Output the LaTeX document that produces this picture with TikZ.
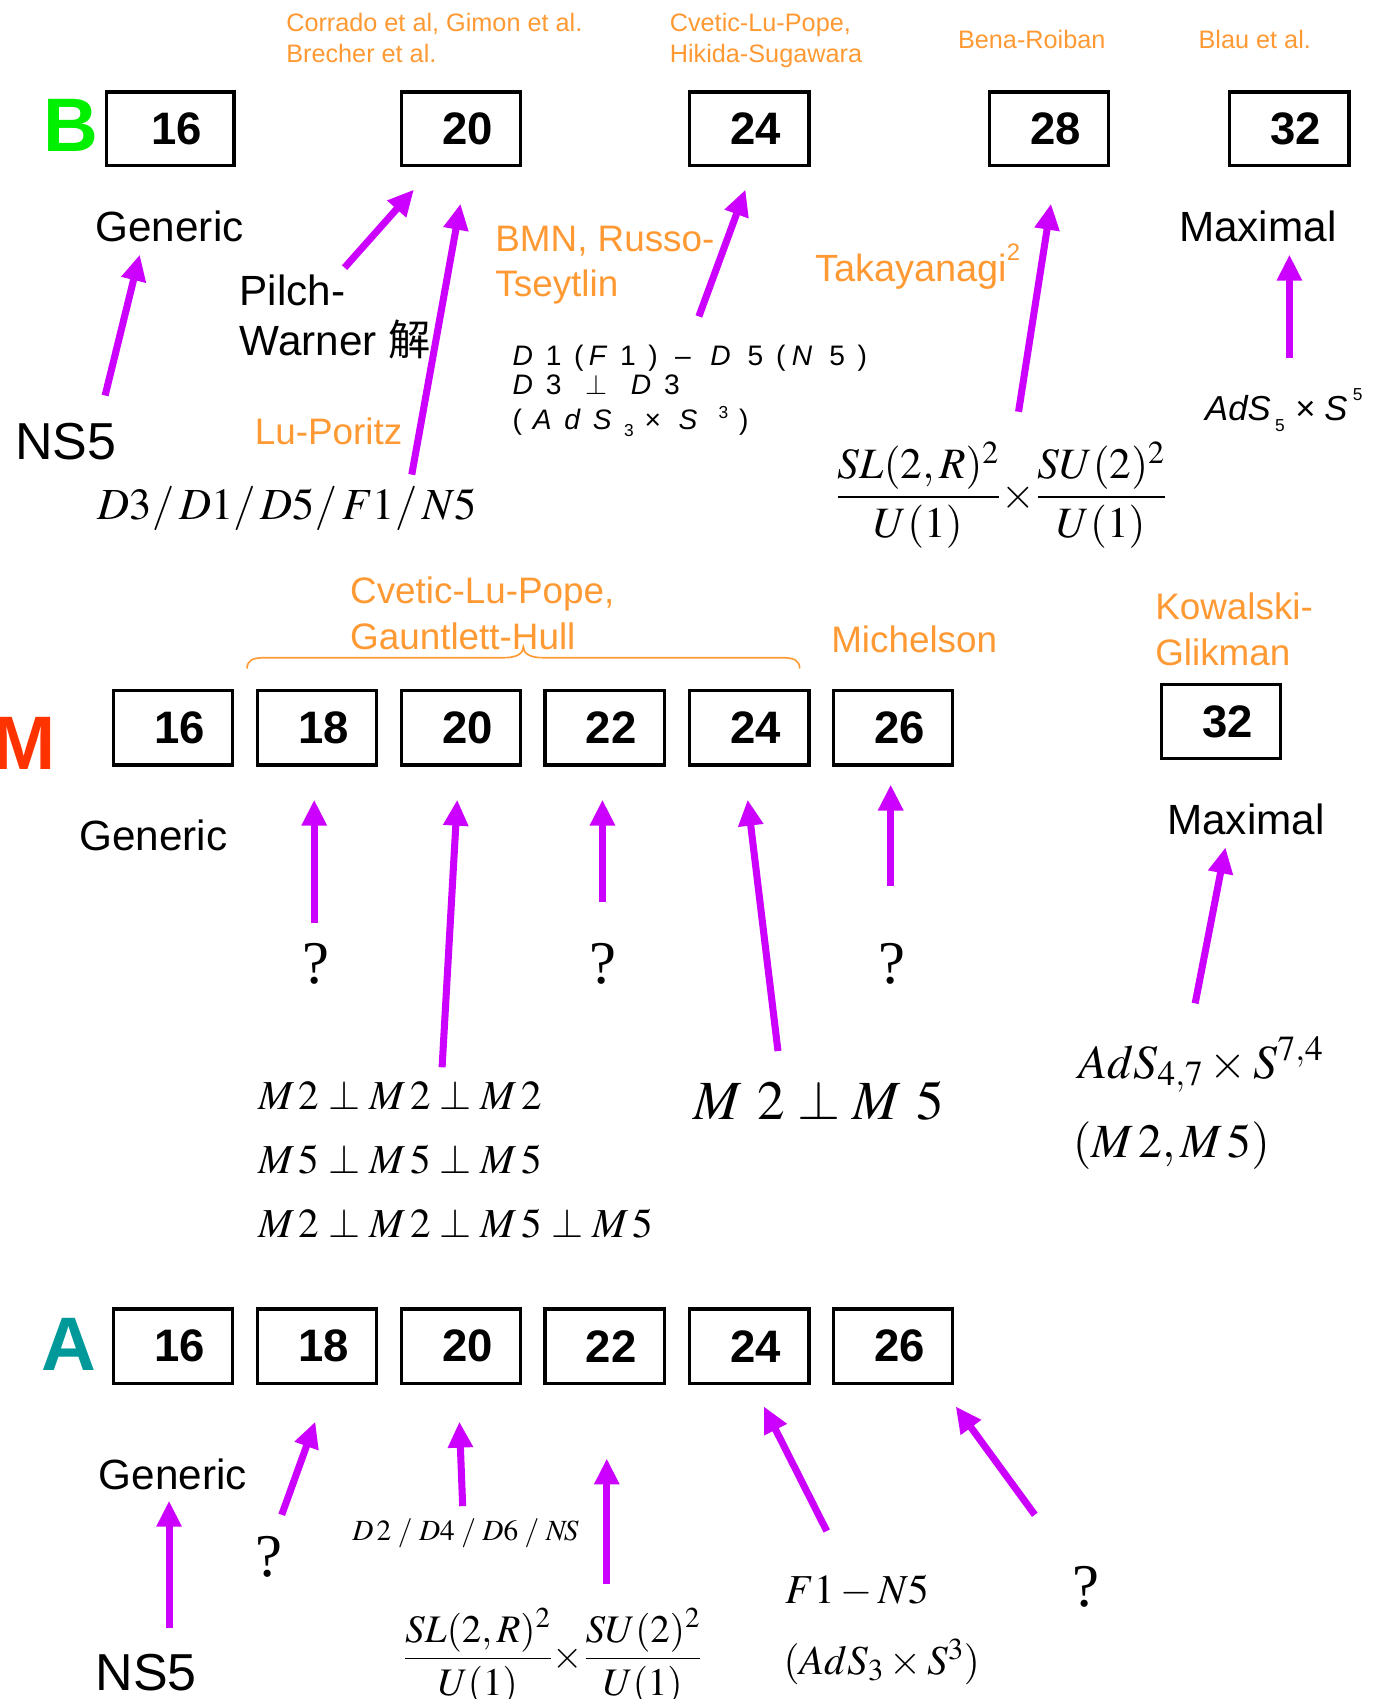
\documentclass[tikz,border=0pt]{standalone}
\usepackage{mathptmx}
\usepackage[no-math]{fontspec}
\setmainfont{Liberation Sans}
\newfontfamily\tms{Liberation Serif}
\newfontfamily\cjk{Noto Sans CJK SC}
\newfontfamily\gsp[LetterSpace=45]{Liberation Sans}
\usetikzlibrary{arrows.meta}
\definecolor{mag}{RGB}{204,0,255}
\definecolor{org}{RGB}{255,153,51}
\definecolor{grn}{RGB}{0,240,0}
\definecolor{redm}{RGB}{255,51,0}
\definecolor{tealc}{RGB}{0,153,153}
\newcommand{\fs}[1]{\fontsize{#1}{#1}\selectfont}
\newcommand{\bx}[1]{\hspace{12pt}\raisebox{-3pt}{#1}}
\tikzset{
  numbox/.style={draw, line width=3pt, minimum width=110pt, minimum height=69pt, inner sep=0pt, font=\bfseries\fs{42}},
  lbl/.style={anchor=base west, inner sep=0pt},
  cite/.style={lbl, text=org},
  arr/.style={mag, line width=6.5pt, -{Triangle[length=24pt,width=22pt]}},
  big/.style={lbl, font=\bfseries\fs{70}},
}
\begin{document}
\begin{tikzpicture}[x=1pt,y=-1pt]
\useasboundingbox (0,0) rectangle (1272,1568);
% ================= B row =================
\node[big, text=grn] (Blab) at (40,140) {B};
\node[numbox, minimum width=118pt, minimum height=68pt] (B16) at (157,119) {\bx{16}};
\node[numbox, minimum height=68pt] (B20) at (425.5,119) {\bx{20}};
\node[numbox, minimum height=68pt] (B24) at (691.5,119) {\bx{24}};
\node[numbox, minimum height=68pt] (B28) at (968,119) {\bx{28}};
\node[numbox, minimum height=68pt] (B32) at (1190,119) {\bx{32}};

\node[cite, font=\fs{23.3}] (c1a) at (264,29) {Corrado et al, Gimon et al.};
\node[cite, font=\fs{23.3}] (c1b) at (264,58) {Brecher et al.};
\node[cite, font=\fs{23.3}] (c2a) at (618,29) {Cvetic-Lu-Pope,};
\node[cite, font=\fs{23.3}] (c2b) at (618,58) {Hikida-Sugawara};
\node[cite, font=\fs{23.3}] (c3) at (884,45) {Bena-Roiban};
\node[cite, font=\fs{23.3}] (c4) at (1106,45) {Blau et al.};

\node[lbl, font=\fs{39}] (genB) at (88,223) {Generic};
\node[lbl, font=\fs{39}] (pw1) at (221,282) {Pilch-};
\node[lbl, font=\fs{39}] (pw2) at (221,328) {Warner {\cjk 解}};
\node[lbl, font=\fs{48}] (ns5B) at (14,424) {NS5};
\node[cite, font=\fs{34}] (lp) at (235,410) {Lu-Poritz};
\node[lbl, font=\fs{41}] (d3B) at (90,479) {$D3/\,D1/\,D5/\,F1/\,N5$};
\node[cite, font=\fs{34}] (bmn1) at (457,232) {BMN, Russo-};
\node[cite, font=\fs{34}] (bmn2) at (457,274) {Tseytlin};
\node[lbl, font=\gsp\fs{26}] (sp1) at (473,337) {\textit{D}1(\hspace{5pt}\textit{F}1)\hspace{16pt}–\hspace{18pt}\textit{D}\hspace{4pt}5(\hspace{6pt}\textit{N}\hspace{4pt}5)};
\node[lbl, font=\gsp\fs{26}] (sp2) at (473,364) {\textit{D}3\hspace{22pt}$\perp$\hspace{22pt}\textit{D}3};
\node[lbl, font=\gsp\fs{26}] (sp3) at (473,396) {(\hspace{10pt}\textit{AdS}\raisebox{-7pt}{\fs{16}3}\hspace{10pt}\texttimes\hspace{16pt}\textit{S}\hspace{8pt}\raisebox{10pt}{\fs{16}3}\hspace{10pt})};
\node[cite, font=\fs{35}] (tak) at (752,260) {Takayanagi\raisebox{20pt}{\fs{22}2}};
\node[inner sep=0pt, font=\fs{40}] (fracB) at (924,457) {$\displaystyle\frac{SL(2,R)^2}{U(1)}\!\times\!\frac{SU(2)^2}{U(1)}$};
\node[lbl, font=\fs{39}] (maxB) at (1088,223) {Maximal};
\node[lbl, font=\fs{32}] (ads5) at (1112,388) {\textit{AdS}\hspace{4pt}\raisebox{-10pt}{\fs{16}5}\hspace{10pt}\texttimes\hspace{8pt}\textit{S}\hspace{5pt}\raisebox{18pt}{\fs{16}5}};

% arrows B
\coordinate (a1s) at (97,365);  \coordinate (a1e) at (129,235);
\coordinate (a2s) at (318,247); \coordinate (a2e) at (382,175);
\coordinate (a3s) at (380,438); \coordinate (a3e) at (425,188);
\coordinate (a4s) at (645,292); \coordinate (a4e) at (688,175);
\coordinate (a5s) at (940,380); \coordinate (a5e) at (970,188);
\coordinate (a6s) at (1190,330);\coordinate (a6e) at (1190,235);
\foreach \i in {1,...,6} {\draw[arr] (a\i s) -- (a\i e);}

% ================= M row =================
\node[big, text=redm] (Mlab) at (-7,710) {M};
\node[numbox] (M16) at (159.5,671.5) {\bx{16}};
\node[numbox] (M18) at (292.5,671.5) {\bx{18}};
\node[numbox] (M20) at (425.5,671.5) {\bx{20}};
\node[numbox] (M22) at (558,671.5) {\bx{22}};
\node[numbox] (M24) at (691.5,671.5) {\bx{24}};
\node[numbox] (M26) at (824,671.5) {\bx{26}};
\node[numbox, minimum height=68pt] (M32) at (1127,666) {\bx{32}};

\node[cite, font=\fs{34}] (cg1) at (323,557) {Cvetic-Lu-Pope,};
\node[cite, font=\fs{34}] (cg2) at (323,599) {Gauntlett-Hull};
\draw[org, line width=1.5pt] (228,617) .. controls (228,609) and (234,607) .. (244,607)
  -- (465,607) .. controls (477,607) and (483,603) .. (483,597)
  .. controls (483,603) and (489,607) .. (501,607) -- (722,607)
  .. controls (732,607) and (738,609) .. (738,617);
\node[cite, font=\fs{34}] (mich) at (767,602) {Michelson};
\node[cite, font=\fs{34}] (kg1) at (1066,572) {Kowalski-};
\node[cite, font=\fs{34}] (kg2) at (1066,614) {Glikman};

\node[lbl, font=\fs{39}] (genM) at (73,785) {Generic};
\node[lbl, font=\fs{39}] (maxM) at (1077,770) {Maximal};
\node[lbl, font=\tms\fs{56}] (q1) at (279,908) {?};
\node[lbl, font=\tms\fs{56}] (q2) at (544,908) {?};
\node[lbl, font=\tms\fs{56}] (q3) at (811,908) {?};
\node[lbl, font=\fs{38}] (m1) at (238,1024) {$M\,2\perp M\,2\perp M\,2$};
\node[lbl, font=\fs{38}] (m2) at (238,1083) {$M\,5\perp M\,5\perp M\,5$};
\node[lbl, font=\fs{38}] (m3) at (238,1142) {$M\,2\perp M\,2\perp M\,5\perp M\,5$};
\node[lbl, font=\fs{51}] (m25) at (640,1033) {$M\ 2\perp M\ 5$};
\node[lbl, font=\fs{44}] (ads47) at (995,995) {$AdS_{4,7}\times S^{7,4}$};
\node[lbl, font=\fs{44}] (m2m5) at (990,1068) {$(M\,2, M\,5)$};

\coordinate (b1s) at (290,852);  \coordinate (b1e) at (290,738);
\coordinate (b2s) at (408,985);  \coordinate (b2e) at (422,738);
\coordinate (b3s) at (556,832);  \coordinate (b3e) at (556,738);
\coordinate (b4s) at (718,970);  \coordinate (b4e) at (690,738);
\coordinate (b5s) at (822,818);  \coordinate (b5e) at (822,724);
\coordinate (b6s) at (1103,926); \coordinate (b6e) at (1131,782);
\foreach \i in {1,...,6} {\draw[arr] (b\i s) -- (b\i e);}

% ================= A row =================
\node[big, text=tealc] (Alab) at (38,1265) {A};
\node[numbox] (A16) at (159.5,1242.5) {\bx{16}};
\node[numbox] (A18) at (292.5,1242.5) {\bx{18}};
\node[numbox] (A20) at (425.5,1242.5) {\bx{20}};
\node[numbox] (A22) at (558,1242.5) {\bx{22}};
\node[numbox] (A24) at (691.5,1242.5) {\bx{24}};
\node[numbox] (A26) at (824,1242.5) {\bx{26}};

\node[lbl, font=\fs{39}] (genA) at (91,1375) {Generic};
\node[lbl, font=\fs{48}] (ns5A) at (88,1560) {NS5};
\node[lbl, font=\tms\fs{56}] (q4) at (236,1455) {?};
\node[lbl, font=\tms\fs{56}] (q5) at (990,1483) {?};
\node[lbl, font=\fs{27}] (d2A) at (325,1422) {$D\,2\;/\;D4\;/\;D6\;/\;N\!S$};
\node[inner sep=0pt, font=\fs{36}] (fracA) at (510,1529) {$\displaystyle\frac{SL(2,R)^2}{U(1)}\!\times\!\frac{SU(2)^2}{U(1)}$};
\node[lbl, font=\fs{38}] (f1n5) at (725,1480) {$F1-N5$};
\node[lbl, font=\fs{38}] (ads3) at (723,1545) {$(AdS_3\times S^3)$};

\coordinate (c1s) at (156,1502); \coordinate (c1e) at (156,1385);
\coordinate (c2s) at (260,1398); \coordinate (c2e) at (291,1312);
\coordinate (c3s) at (427,1390); \coordinate (c3e) at (424,1312);
\coordinate (c4s) at (560,1462); \coordinate (c4e) at (560,1346);
\coordinate (c5s) at (763,1413); \coordinate (c5e) at (705,1298);
\coordinate (c6s) at (955,1398); \coordinate (c6e) at (882,1298);
\foreach \i in {1,...,6} {\draw[arr] (c\i s) -- (c\i e);}
\end{tikzpicture}
\end{document}
